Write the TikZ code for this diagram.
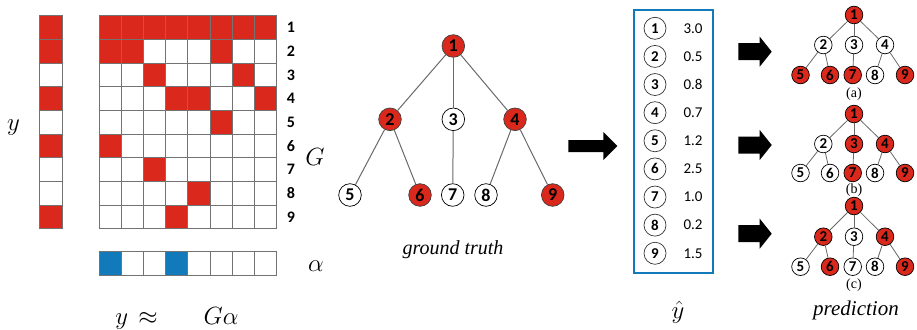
\documentclass[tikz,border=0pt]{standalone}
\usepackage{fontspec}
\newfontfamily\numfont{Carlito}
\newfontfamily\tnrfont{Liberation Serif}
\definecolor{myred}{RGB}{218,41,28}
\definecolor{myblue}{RGB}{18,122,186}
\definecolor{edgegray}{RGB}{105,105,105}
\newcommand\blockarrow[1]{\fill (738.3,{#1-8.5}) -- (759.7,{#1-8.5}) -- (759.7,{#1-15}) -- (771.7,#1) -- (759.7,{#1+15}) -- (759.7,{#1+8.5}) -- (738.3,{#1+8.5}) -- cycle;}
\begin{document}
\begin{tikzpicture}[x=1pt,y=-1pt,
  cell/.style={draw=gray!90!black, line width=0.7pt},
  gnode/.style={circle, draw=gray!50!black, line width=0.7pt, minimum size=22.6pt, inner sep=0pt, font=\numfont\bfseries\fontsize{18}{18}\selectfont},
  gred/.style={gnode, fill=myred},
  gwhite/.style={gnode, fill=white, draw=black},
  gedge/.style={draw=edgegray, line width=1pt},
  lnode/.style={circle, draw=gray!40!black, line width=0.7pt, minimum size=22pt, inner sep=0pt, font=\numfont\bfseries\fontsize{15}{15}\selectfont},
  lval/.style={font=\numfont\fontsize{15}{15}\selectfont},
  pnode/.style={circle, draw=black, line width=0.7pt, minimum size=17.6pt, inner sep=0pt, font=\numfont\bfseries\fontsize{15}{15}\selectfont},
  pred/.style={pnode, fill=myred},
  pwhite/.style={pnode, fill=white},
  pedge/.style={draw=edgegray, line width=0.8pt},
  rowlab/.style={font=\numfont\bfseries\fontsize{16}{16}\selectfont},
  bigmath/.style={font=\fontsize{25}{25}\selectfont, inner sep=0pt},
  ymath/.style={font=\fontsize{28}{28}\selectfont, inner sep=0pt},
  caption/.style={font=\tnrfont\itshape\fontsize{20}{20}\selectfont, inner sep=0pt},
  sublab/.style={font=\tnrfont\fontsize{14}{14}\selectfont, inner sep=0pt}]
\useasboundingbox (0,0) rectangle (917,329);

% ---------- matrix G ----------
\foreach \c/\r in {1/1,2/1,3/1,4/1,5/1,6/1,7/1,8/1,1/2,2/2,6/2,3/3,7/3,4/4,5/4,8/4,6/5,1/6,3/7,5/8,4/9}
  \fill[myred] ({99+(\c-1)*22.2},{15.7+(\r-1)*23.67}) rectangle ++(22.2,23.67);
\foreach \c in {1,...,8}
  \foreach \r in {1,...,9}
    \draw[cell] ({99+(\c-1)*22.2},{15.7+(\r-1)*23.67}) rectangle ++(22.2,23.67);
\foreach \r in {1,...,9}
  \node[rowlab] (row\r) at (291,{15.7+(\r-0.5)*23.67}) {\r};

% ---------- vector y ----------
\foreach \r in {1,2,4,6,9}
  \fill[myred] (39.3,{15.7+(\r-1)*23.67}) rectangle ++(22.7,23.67);
\foreach \r in {1,...,9}
  \draw[cell] (39.3,{15.7+(\r-1)*23.67}) rectangle ++(22.7,23.67);

% ---------- vector alpha ----------
\foreach \c in {1,4}
  \fill[myblue] ({99+(\c-1)*22.2},251.7) rectangle ++(22.2,23.3);
\foreach \c in {1,...,8}
  \draw[cell] ({99+(\c-1)*22.2},251.7) rectangle ++(22.2,23.3);

% ---------- math labels ----------
\node[ymath] (ylab) at (13.5,128) {$y$};
\node[bigmath] (Glab) at (315,157) {$G$};
\node[bigmath] (alab) at (316,266) {$\alpha$};
\node[ymath, anchor=base] (eqy) at (121.7,324) {$y$};
\node[bigmath, anchor=base] (eqapprox) at (148,324) {$\approx$};
\node[bigmath, anchor=base] (eqG) at (221,324) {$G\alpha$};

% ---------- ground truth tree ----------
\node[gred]   (g1) at (453.3,46) {1};
\node[gred]   (g2) at (390,119.3) {2};
\node[gwhite] (g3) at (453.3,119.3) {3};
\node[gred]   (g4) at (515,119.3) {4};
\node[gwhite] (g5) at (350,195) {5};
\node[gred]   (g6) at (420,195) {6};
\node[gwhite] (g7) at (452.7,195) {7};
\node[gwhite] (g8) at (486,195) {8};
\node[gred]   (g9) at (552.7,195) {9};
\foreach \a/\b in {g1/g2,g1/g3,g1/g4,g2/g5,g2/g6,g3/g7,g4/g8,g4/g9}
  \draw[gedge] (\a) -- (\b);
\node[caption] (gt) at (453,250) {ground truth};

% ---------- big arrow ----------
\fill (568.3,140) -- (603.3,140) -- (603.3,132) -- (617.3,146) -- (603.3,160) -- (603.3,152) -- (568.3,152) -- cycle;

% ---------- list box ----------
\draw[myblue, line width=2pt] (634,10) rectangle (712.7,272.7);
\foreach \i/\v in {1/3.0,2/0.5,3/0.8,4/0.7,5/1.2,6/2.5,7/1.0,8/0.2,9/1.5} {
  \node[lnode] (l\i) at (655,{28.3+(\i-1)*28.12}) {\i};
  \node[lval] (v\i) at (693,{28.3+(\i-1)*28.12}) {\v};
}
\node[ymath] (yhat) at (678,312) {$\hat{y}$};

% ---------- small arrows ----------
\blockarrow{51.7}
\blockarrow{145}
\blockarrow{233.7}

% ---------- prediction trees ----------
% (a)
\node[pred]   (a1) at (854,15) {1};
\node[pwhite] (a2) at (823.3,45) {2};
\node[pwhite] (a3) at (854,45) {3};
\node[pwhite] (a4) at (885,45) {4};
\node[pred]   (a5) at (800.5,75) {5};
\node[pred]   (a6) at (830,75) {6};
\node[pred]   (a7) at (852.7,75) {7};
\node[pwhite] (a8) at (875,75) {8};
\node[pred]   (a9) at (905,75) {9};
\node[sublab] (alabel) at (854,94) {(a)};
% (b)
\node[pred]   (b1) at (854,114) {1};
\node[pwhite] (b2) at (823.3,144) {2};
\node[pred]   (b3) at (854,144) {3};
\node[pred]   (b4) at (885,144) {4};
\node[pwhite] (b5) at (800.5,173) {5};
\node[pwhite] (b6) at (830,173) {6};
\node[pred]   (b7) at (852.7,173) {7};
\node[pwhite] (b8) at (875,173) {8};
\node[pred]   (b9) at (905,173) {9};
\node[sublab] (blabel) at (854,190.5) {(b)};
% (c)
\node[pred]   (c1) at (854,206) {1};
\node[pred]   (c2) at (823.3,236.7) {2};
\node[pwhite] (c3) at (854,236.7) {3};
\node[pred]   (c4) at (885,236.7) {4};
\node[pwhite] (c5) at (800.5,266.7) {5};
\node[pred]   (c6) at (830,266.7) {6};
\node[pwhite] (c7) at (852.7,266.7) {7};
\node[pwhite] (c8) at (875,266.7) {8};
\node[pred]   (c9) at (905,266.7) {9};
\node[sublab] (clabel) at (854,285) {(c)};
\foreach \t in {a,b,c}
  \foreach \p/\q in {1/2,1/3,1/4,2/5,2/6,3/7,4/8,4/9}
    \draw[pedge] (\t\p) -- (\t\q);
\node[caption, font=\tnrfont\itshape\fontsize{21}{21}\selectfont] (pred) at (856,310) {prediction};
\end{tikzpicture}
\end{document}
